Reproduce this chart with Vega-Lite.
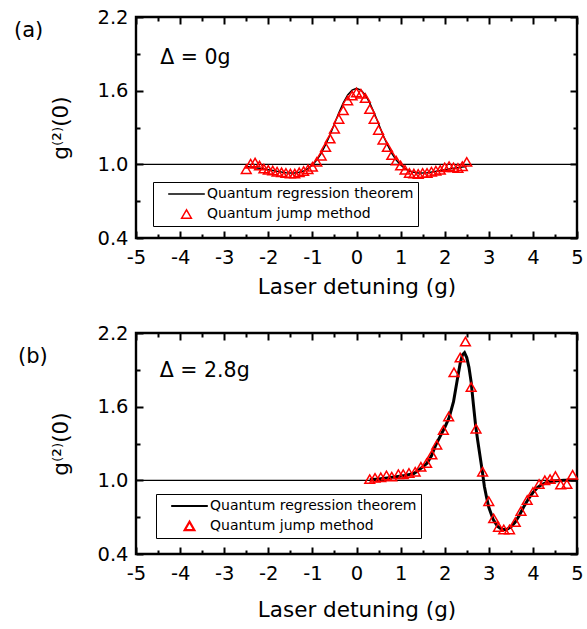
{
  "$schema": "https://vega.github.io/schema/vega-lite/v6.json",
  "padding": {"left": 12, "top": 5, "right": 4, "bottom": 4},
  "spacing": 21,
  "datasets": {
    "lineA": [
      {"x": -2.5, "y": 0.982}, {"x": -2.4, "y": 0.978}, {"x": -2.3, "y": 0.973}, {"x": -2.2, "y": 0.968}, {"x": -2.1, "y": 0.962},
      {"x": -2.0, "y": 0.956}, {"x": -1.9, "y": 0.95}, {"x": -1.8, "y": 0.943}, {"x": -1.7, "y": 0.937}, {"x": -1.6, "y": 0.932},
      {"x": -1.5, "y": 0.93}, {"x": -1.4, "y": 0.93}, {"x": -1.3, "y": 0.935}, {"x": -1.2, "y": 0.945}, {"x": -1.1, "y": 0.965},
      {"x": -1.0, "y": 0.995}, {"x": -0.9, "y": 1.035}, {"x": -0.8, "y": 1.09}, {"x": -0.7, "y": 1.16}, {"x": -0.6, "y": 1.24},
      {"x": -0.5, "y": 1.33}, {"x": -0.4, "y": 1.42}, {"x": -0.3, "y": 1.5}, {"x": -0.2, "y": 1.565}, {"x": -0.1, "y": 1.605},
      {"x": 0.0, "y": 1.62}, {"x": 0.1, "y": 1.605}, {"x": 0.2, "y": 1.565}, {"x": 0.3, "y": 1.5}, {"x": 0.4, "y": 1.42},
      {"x": 0.5, "y": 1.33}, {"x": 0.6, "y": 1.24}, {"x": 0.7, "y": 1.16}, {"x": 0.8, "y": 1.09}, {"x": 0.9, "y": 1.035},
      {"x": 1.0, "y": 0.995}, {"x": 1.1, "y": 0.965}, {"x": 1.2, "y": 0.945}, {"x": 1.3, "y": 0.935}, {"x": 1.4, "y": 0.93},
      {"x": 1.5, "y": 0.93}, {"x": 1.6, "y": 0.932}, {"x": 1.7, "y": 0.937}, {"x": 1.8, "y": 0.943}, {"x": 1.9, "y": 0.95},
      {"x": 2.0, "y": 0.956}, {"x": 2.1, "y": 0.962}, {"x": 2.2, "y": 0.968}, {"x": 2.3, "y": 0.973}, {"x": 2.4, "y": 0.978},
      {"x": 2.5, "y": 0.982}
    ],
    "ptsA": [
      {"x": -2.5, "y": 0.96}, {"x": -2.4, "y": 1.005}, {"x": -2.3, "y": 1.015}, {"x": -2.2, "y": 0.99}, {"x": -2.1, "y": 0.965},
      {"x": -2.0, "y": 0.955}, {"x": -1.9, "y": 0.95}, {"x": -1.8, "y": 0.94}, {"x": -1.7, "y": 0.935}, {"x": -1.6, "y": 0.93},
      {"x": -1.5, "y": 0.925}, {"x": -1.4, "y": 0.925}, {"x": -1.3, "y": 0.935}, {"x": -1.2, "y": 0.945}, {"x": -1.1, "y": 0.96},
      {"x": -1.0, "y": 0.98}, {"x": -0.9, "y": 1.02}, {"x": -0.8, "y": 1.07}, {"x": -0.7, "y": 1.14}, {"x": -0.6, "y": 1.21},
      {"x": -0.5, "y": 1.29}, {"x": -0.4, "y": 1.37}, {"x": -0.3, "y": 1.44}, {"x": -0.2, "y": 1.52}, {"x": -0.1, "y": 1.56},
      {"x": 0.0, "y": 1.585}, {"x": 0.1, "y": 1.575}, {"x": 0.2, "y": 1.54}, {"x": 0.3, "y": 1.45}, {"x": 0.4, "y": 1.37},
      {"x": 0.5, "y": 1.28}, {"x": 0.6, "y": 1.2}, {"x": 0.7, "y": 1.14}, {"x": 0.8, "y": 1.075}, {"x": 0.9, "y": 1.03},
      {"x": 1.0, "y": 0.99}, {"x": 1.1, "y": 0.955}, {"x": 1.2, "y": 0.93}, {"x": 1.3, "y": 0.925}, {"x": 1.4, "y": 0.922},
      {"x": 1.5, "y": 0.93}, {"x": 1.6, "y": 0.93}, {"x": 1.7, "y": 0.94}, {"x": 1.8, "y": 0.948}, {"x": 1.9, "y": 0.955},
      {"x": 2.0, "y": 0.975}, {"x": 2.1, "y": 0.985}, {"x": 2.2, "y": 0.975}, {"x": 2.3, "y": 0.97}, {"x": 2.4, "y": 0.985},
      {"x": 2.5, "y": 1.02}
    ],
    "lineB": [
      {"x": 0.3, "y": 1.005}, {"x": 0.5, "y": 1.01}, {"x": 0.7, "y": 1.02}, {"x": 0.9, "y": 1.03}, {"x": 1.1, "y": 1.04},
      {"x": 1.3, "y": 1.055}, {"x": 1.4, "y": 1.08}, {"x": 1.5, "y": 1.11}, {"x": 1.6, "y": 1.14}, {"x": 1.7, "y": 1.2},
      {"x": 1.8, "y": 1.29}, {"x": 1.9, "y": 1.36}, {"x": 2.0, "y": 1.43}, {"x": 2.1, "y": 1.51}, {"x": 2.2, "y": 1.64},
      {"x": 2.3, "y": 1.85}, {"x": 2.35, "y": 1.95}, {"x": 2.4, "y": 2.02}, {"x": 2.45, "y": 2.04}, {"x": 2.5, "y": 2.0},
      {"x": 2.55, "y": 1.92}, {"x": 2.6, "y": 1.8}, {"x": 2.65, "y": 1.62}, {"x": 2.7, "y": 1.45}, {"x": 2.75, "y": 1.32},
      {"x": 2.8, "y": 1.2}, {"x": 2.85, "y": 1.08}, {"x": 2.9, "y": 0.95}, {"x": 2.95, "y": 0.86}, {"x": 3.0, "y": 0.78},
      {"x": 3.1, "y": 0.68}, {"x": 3.2, "y": 0.625}, {"x": 3.3, "y": 0.6}, {"x": 3.4, "y": 0.6}, {"x": 3.5, "y": 0.62},
      {"x": 3.6, "y": 0.66}, {"x": 3.7, "y": 0.72}, {"x": 3.8, "y": 0.79}, {"x": 3.9, "y": 0.85}, {"x": 4.0, "y": 0.9},
      {"x": 4.1, "y": 0.94}, {"x": 4.2, "y": 0.965}, {"x": 4.3, "y": 0.98}, {"x": 4.4, "y": 0.99}, {"x": 4.5, "y": 0.995},
      {"x": 4.7, "y": 1.0}, {"x": 5.0, "y": 1.0}
    ],
    "ptsB": [
      {"x": 0.3, "y": 1.01}, {"x": 0.42, "y": 1.02}, {"x": 0.55, "y": 1.025}, {"x": 0.68, "y": 1.04}, {"x": 0.8, "y": 1.03},
      {"x": 0.95, "y": 1.05}, {"x": 1.06, "y": 1.05}, {"x": 1.19, "y": 1.06}, {"x": 1.33, "y": 1.07}, {"x": 1.46, "y": 1.11},
      {"x": 1.59, "y": 1.14}, {"x": 1.71, "y": 1.21}, {"x": 1.82, "y": 1.29}, {"x": 1.97, "y": 1.41}, {"x": 2.09, "y": 1.52},
      {"x": 2.21, "y": 1.88}, {"x": 2.35, "y": 2.0}, {"x": 2.47, "y": 2.13}, {"x": 2.6, "y": 1.76}, {"x": 2.71, "y": 1.42},
      {"x": 2.86, "y": 1.07}, {"x": 3.0, "y": 0.83}, {"x": 3.11, "y": 0.69}, {"x": 3.22, "y": 0.62}, {"x": 3.34, "y": 0.6},
      {"x": 3.47, "y": 0.6}, {"x": 3.6, "y": 0.66}, {"x": 3.73, "y": 0.75}, {"x": 3.87, "y": 0.84}, {"x": 4.0, "y": 0.905},
      {"x": 4.14, "y": 0.97}, {"x": 4.27, "y": 1.0}, {"x": 4.39, "y": 1.01}, {"x": 4.51, "y": 1.035}, {"x": 4.63, "y": 0.965},
      {"x": 4.77, "y": 0.97}, {"x": 4.9, "y": 1.045}
    ]
  },
  "vconcat": [
    {
      "width": 441,
      "height": 221,
      "title": {"text": "(a)", "anchor": "start", "frame": "group", "orient": "top", "offset": -35, "dx": -122, "dy": 10, "baseline": "middle", "fontSize": 21, "font": "DejaVu Sans", "fontWeight": "normal", "color": "black"},
      "resolve": {"axis": {"x": "independent", "y": "independent"}},
      "layer": [
        {
          "data": {"values": [{}]},
          "mark": {"type": "rule", "color": "black", "strokeWidth": 1.3},
          "encoding": {
            "x": {"datum": -5, "type": "quantitative", "scale": {"domain": [-5, 5], "nice": false, "zero": false},
                  "axis": {"orient": "bottom", "values": [-5, -4, -3, -2, -1, 0, 1, 2, 3, 4, 5], "offset": -7, "tickSize": 7, "labelPadding": 10, "title": "Laser detuning (g)", "titlePadding": 10, "labelExpr": "'' + datum.value"}},
            "x2": {"datum": 5},
            "y": {"datum": 1, "type": "quantitative", "scale": {"domain": [0.4, 2.2], "nice": false, "zero": false},
                  "axis": {"orient": "left", "values": [0.4, 1.0, 1.6, 2.2], "offset": -7, "tickSize": 7, "labelPadding": 8, "format": ".1f", "title": "g⁽²⁾(0)", "titlePadding": 24}}
          }
        },
        {
          "data": {"name": "lineA"},
          "mark": {"type": "line", "strokeWidth": 1.5},
          "encoding": {
            "x": {"field": "x", "type": "quantitative", "axis": {"orient": "bottom", "values": [-4.5, -3.5, -2.5, -1.5, -0.5, 0.5, 1.5, 2.5, 3.5, 4.5], "offset": -4, "tickSize": 4, "labels": false, "title": null}},
            "y": {"field": "y", "type": "quantitative", "axis": {"orient": "left", "values": [0.7, 1.3, 1.9], "offset": -4, "tickSize": 4, "labels": false, "title": null}},
            "color": {"datum": "Quantum regression theorem", "type": "nominal",
              "legend": {"orient": "none", "legendX": 17, "legendY": 165, "title": null, "strokeColor": "black", "padding": 4, "symbolOffset": 10, "labelOffset": 1, "labelLimit": 0, "clipHeight": 16, "labelFont": "DejaVu Sans", "labelFontSize": 14, "labelColor": "black", "rowPadding": 4, "symbolStrokeWidth": 1.5, "symbolFillColor": "transparent"}
            }
          }
        },
        {
          "data": {"name": "ptsA"},
          "mark": {"type": "point", "shape": "triangle-up", "filled": false, "strokeWidth": 1.5, "opacity": 1},
          "encoding": {
            "x": {"field": "x", "type": "quantitative", "axis": {"orient": "top", "values": [-5, -4, -3, -2, -1, 0, 1, 2, 3, 4, 5], "offset": -7, "tickSize": 7, "labels": false, "title": null}},
            "y": {"field": "y", "type": "quantitative", "axis": {"orient": "right", "values": [0.4, 1.0, 1.6, 2.2], "offset": -7, "tickSize": 7, "labels": false, "title": null}},
            "color": {"datum": "Quantum jump method", "type": "nominal",
              "scale": {"domain": ["Quantum regression theorem", "Quantum jump method"], "range": ["black", "red"]},
              "legend": {"orient": "none", "legendX": 17, "legendY": 165, "title": null, "strokeColor": "black", "padding": 4, "symbolOffset": 10, "labelOffset": 1, "labelLimit": 0, "clipHeight": 16, "labelFont": "DejaVu Sans", "labelFontSize": 14, "labelColor": "black", "rowPadding": 4, "symbolStrokeWidth": 1.5, "symbolFillColor": "transparent"}
            },
            "shape": {"datum": "Quantum jump method", "type": "nominal",
              "scale": {"domain": ["Quantum regression theorem", "Quantum jump method"], "range": ["stroke", "triangle-up"]},
              "legend": {"orient": "none", "legendX": 17, "legendY": 165, "title": null, "strokeColor": "black", "padding": 4, "symbolOffset": 10, "labelOffset": 1, "labelLimit": 0, "clipHeight": 16, "labelFont": "DejaVu Sans", "labelFontSize": 14, "labelColor": "black", "rowPadding": 4, "symbolStrokeWidth": 1.5, "symbolFillColor": "transparent"}
            },
            "size": {"datum": "Quantum jump method", "type": "nominal",
              "scale": {"domain": ["Quantum regression theorem", "Quantum jump method"], "range": [1340, 95]},
              "legend": {"orient": "none", "legendX": 17, "legendY": 165, "title": null, "strokeColor": "black", "padding": 4, "symbolOffset": 10, "labelOffset": 1, "labelLimit": 0, "clipHeight": 16, "labelFont": "DejaVu Sans", "labelFontSize": 14, "labelColor": "black", "rowPadding": 4, "symbolStrokeWidth": 1.5, "symbolFillColor": "transparent"}
            }
          }
        },
        {
          "data": {"values": [{}]},
          "mark": {"type": "text", "align": "left", "baseline": "middle", "font": "DejaVu Sans", "fontSize": 20.5, "color": "black"},
          "encoding": {
            "x": {"datum": -4.45, "type": "quantitative", "axis": {"orient": "top", "values": [-4.5, -3.5, -2.5, -1.5, -0.5, 0.5, 1.5, 2.5, 3.5, 4.5], "offset": -4, "tickSize": 4, "labels": false, "title": null}},
            "y": {"datum": 1.87, "type": "quantitative", "axis": {"orient": "right", "values": [0.7, 1.3, 1.9], "offset": -4, "tickSize": 4, "labels": false, "title": null}},
            "text": {"datum": "Δ = 0g"}
          }
        }
      ]
    },
    {
      "width": 441,
      "height": 221,
      "title": {"text": "(b)", "anchor": "start", "frame": "group", "orient": "top", "offset": -35, "dx": -118, "dy": 20, "baseline": "middle", "fontSize": 21, "font": "DejaVu Sans", "fontWeight": "normal", "color": "black"},
      "resolve": {"axis": {"x": "independent", "y": "independent"}},
      "layer": [
        {
          "data": {"values": [{}]},
          "mark": {"type": "rule", "color": "black", "strokeWidth": 1.3},
          "encoding": {
            "x": {"datum": -5, "type": "quantitative", "scale": {"domain": [-5, 5], "nice": false, "zero": false},
                  "axis": {"orient": "bottom", "values": [-5, -4, -3, -2, -1, 0, 1, 2, 3, 4, 5], "offset": -7, "tickSize": 7, "labelPadding": 10, "title": "Laser detuning (g)", "titlePadding": 17, "labelExpr": "'' + datum.value"}},
            "x2": {"datum": 5},
            "y": {"datum": 1, "type": "quantitative", "scale": {"domain": [0.4, 2.2], "nice": false, "zero": false},
                  "axis": {"orient": "left", "values": [0.4, 1.0, 1.6, 2.2], "offset": -7, "tickSize": 7, "labelPadding": 8, "format": ".1f", "title": "g⁽²⁾(0)", "titlePadding": 24}}
          }
        },
        {
          "data": {"name": "lineB"},
          "mark": {"type": "line", "strokeWidth": 3},
          "encoding": {
            "x": {"field": "x", "type": "quantitative", "axis": {"orient": "bottom", "values": [-4.5, -3.5, -2.5, -1.5, -0.5, 0.5, 1.5, 2.5, 3.5, 4.5], "offset": -4, "tickSize": 4, "labels": false, "title": null}},
            "y": {"field": "y", "type": "quantitative", "axis": {"orient": "left", "values": [0.7, 1.3, 1.9], "offset": -4, "tickSize": 4, "labels": false, "title": null}},
            "color": {"datum": "Quantum regression theorem", "type": "nominal",
              "legend": {"orient": "none", "legendX": 20, "legendY": 161, "title": null, "strokeColor": "black", "padding": 4, "symbolOffset": 10, "labelOffset": 1, "labelLimit": 0, "clipHeight": 16, "labelFont": "DejaVu Sans", "labelFontSize": 14, "labelColor": "black", "rowPadding": 4, "symbolStrokeWidth": 2.2, "symbolFillColor": "transparent"}
            }
          }
        },
        {
          "data": {"name": "ptsB"},
          "mark": {"type": "point", "shape": "triangle-up", "filled": false, "strokeWidth": 1.5, "opacity": 1},
          "encoding": {
            "x": {"field": "x", "type": "quantitative", "axis": {"orient": "top", "values": [-5, -4, -3, -2, -1, 0, 1, 2, 3, 4, 5], "offset": -7, "tickSize": 7, "labels": false, "title": null}},
            "y": {"field": "y", "type": "quantitative", "axis": {"orient": "right", "values": [0.4, 1.0, 1.6, 2.2], "offset": -7, "tickSize": 7, "labels": false, "title": null}},
            "color": {"datum": "Quantum jump method", "type": "nominal",
              "scale": {"domain": ["Quantum regression theorem", "Quantum jump method"], "range": ["black", "red"]},
              "legend": {"orient": "none", "legendX": 20, "legendY": 161, "title": null, "strokeColor": "black", "padding": 4, "symbolOffset": 10, "labelOffset": 1, "labelLimit": 0, "clipHeight": 16, "labelFont": "DejaVu Sans", "labelFontSize": 14, "labelColor": "black", "rowPadding": 4, "symbolStrokeWidth": 2.2, "symbolFillColor": "transparent"}
            },
            "shape": {"datum": "Quantum jump method", "type": "nominal",
              "scale": {"domain": ["Quantum regression theorem", "Quantum jump method"], "range": ["stroke", "triangle-up"]},
              "legend": {"orient": "none", "legendX": 20, "legendY": 161, "title": null, "strokeColor": "black", "padding": 4, "symbolOffset": 10, "labelOffset": 1, "labelLimit": 0, "clipHeight": 16, "labelFont": "DejaVu Sans", "labelFontSize": 14, "labelColor": "black", "rowPadding": 4, "symbolStrokeWidth": 2.2, "symbolFillColor": "transparent"}
            },
            "size": {"datum": "Quantum jump method", "type": "nominal",
              "scale": {"domain": ["Quantum regression theorem", "Quantum jump method"], "range": [1340, 95]},
              "legend": {"orient": "none", "legendX": 20, "legendY": 161, "title": null, "strokeColor": "black", "padding": 4, "symbolOffset": 10, "labelOffset": 1, "labelLimit": 0, "clipHeight": 16, "labelFont": "DejaVu Sans", "labelFontSize": 14, "labelColor": "black", "rowPadding": 4, "symbolStrokeWidth": 2.2, "symbolFillColor": "transparent"}
            }
          }
        },
        {
          "data": {"values": [{}]},
          "mark": {"type": "text", "align": "left", "baseline": "middle", "font": "DejaVu Sans", "fontSize": 20.5, "color": "black"},
          "encoding": {
            "x": {"datum": -4.46, "type": "quantitative", "axis": {"orient": "top", "values": [-4.5, -3.5, -2.5, -1.5, -0.5, 0.5, 1.5, 2.5, 3.5, 4.5], "offset": -4, "tickSize": 4, "labels": false, "title": null}},
            "y": {"datum": 1.89, "type": "quantitative", "axis": {"orient": "right", "values": [0.7, 1.3, 1.9], "offset": -4, "tickSize": 4, "labels": false, "title": null}},
            "text": {"datum": "Δ = 2.8g"}
          }
        }
      ]
    }
  ],
  "resolve": {"scale": {"color": "independent", "shape": "independent", "size": "independent"}, "legend": {"color": "independent", "shape": "independent", "size": "independent"}},
  "config": {
    "view": {"stroke": "black", "strokeWidth": 2.4},
    "axis": {"grid": false, "domain": false, "tickColor": "black", "tickWidth": 2, "labelFont": "DejaVu Sans", "labelFontSize": 19.5, "labelColor": "black", "titleFont": "DejaVu Sans", "titleFontSize": 21.5, "titleFontWeight": "normal", "titleColor": "black", "labelFlush": false, "labelOverlap": false, "minExtent": 0}
  }
}
